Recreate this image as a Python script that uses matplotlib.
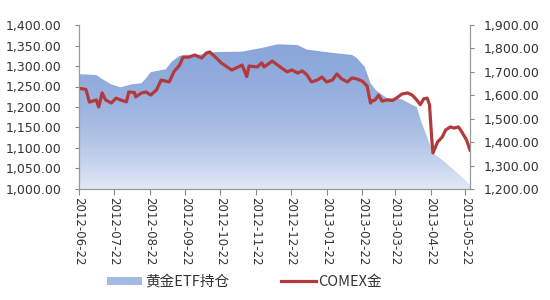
import numpy as np
import pandas as pd
import matplotlib
matplotlib.use('Agg')
import matplotlib.pyplot as plt
import matplotlib.dates as mdates
from matplotlib.patches import Patch
from matplotlib.lines import Line2D
from matplotlib.ticker import FuncFormatter, MultipleLocator

plt.rcParams['font.family'] = ['Noto Sans CJK SC', 'DejaVu Sans']

# 黄金ETF持仓 (left axis)
etf_dates = ['2012-06-22', '2012-07-07', '2012-07-11', '2012-07-20', '2012-07-28',
             '2012-08-06', '2012-08-15', '2012-08-19', '2012-08-23', '2012-09-01',
             '2012-09-05', '2012-09-10', '2012-09-17', '2012-10-06', '2012-10-18',
             '2012-11-10', '2012-11-27', '2012-12-11', '2012-12-28', '2013-01-05',
             '2013-01-27', '2013-02-13', '2013-02-17', '2013-02-24', '2013-03-01',
             '2013-03-06', '2013-03-15', '2013-03-28', '2013-04-06', '2013-04-10',
             '2013-04-14', '2013-04-19', '2013-04-24', '2013-05-02', '2013-05-09',
             '2013-05-19', '2013-05-26']
etf_vals = [1280, 1278, 1270, 1255, 1248,
            1255, 1258, 1270, 1285, 1290,
            1292, 1310, 1325, 1328, 1334,
            1335, 1344, 1353, 1351, 1340,
            1332, 1327, 1320, 1298, 1258,
            1240, 1222, 1219, 1205, 1200,
            1163, 1127, 1088, 1071, 1054,
            1029, 1010]

# COMEX金 (right axis)
gold_dates = ['2012-06-22', '2012-06-28', '2012-07-01', '2012-07-07', '2012-07-09',
              '2012-07-12', '2012-07-15', '2012-07-20', '2012-07-24', '2012-07-28',
              '2012-08-02', '2012-08-04', '2012-08-09', '2012-08-10', '2012-08-15',
              '2012-08-19', '2012-08-23', '2012-08-28', '2012-09-01', '2012-09-08',
              '2012-09-12', '2012-09-17', '2012-09-20', '2012-09-25', '2012-09-30',
              '2012-10-06', '2012-10-10', '2012-10-13', '2012-10-19', '2012-10-23',
              '2012-10-28', '2012-11-01', '2012-11-05', '2012-11-10', '2012-11-14',
              '2012-11-16', '2012-11-23', '2012-11-27', '2012-11-29', '2012-12-06',
              '2012-12-14', '2012-12-19', '2012-12-23', '2012-12-28', '2013-01-01',
              '2013-01-05', '2013-01-09', '2013-01-14', '2013-01-18', '2013-01-22',
              '2013-01-27', '2013-01-31', '2013-02-04', '2013-02-09', '2013-02-13',
              '2013-02-17', '2013-02-22', '2013-02-26', '2013-03-01', '2013-03-02',
              '2013-03-05', '2013-03-08', '2013-03-11', '2013-03-15', '2013-03-20',
              '2013-03-24', '2013-03-28', '2013-04-02', '2013-04-06', '2013-04-10',
              '2013-04-13', '2013-04-16', '2013-04-19', '2013-04-21', '2013-04-23',
              '2013-04-24', '2013-04-28', '2013-05-02', '2013-05-05', '2013-05-09',
              '2013-05-12', '2013-05-16', '2013-05-19', '2013-05-23', '2013-05-26']
gold_vals = [1630, 1625, 1571, 1580, 1550,
             1610, 1580, 1567, 1588, 1580,
             1572, 1614, 1612, 1593, 1610,
             1614, 1601, 1623, 1665, 1657,
             1700, 1729, 1763, 1763, 1772,
             1759, 1780, 1785, 1758, 1738,
             1721, 1708, 1717, 1729, 1680,
             1725, 1721, 1738, 1721, 1746,
             1717, 1700, 1708, 1695, 1704,
             1687, 1657, 1665, 1678, 1657,
             1665, 1691, 1670, 1657, 1674,
             1670, 1660, 1640, 1567, 1575,
             1580, 1601, 1575, 1580, 1578,
             1590, 1605, 1610, 1601, 1580,
             1560, 1585, 1588, 1559, 1409,
             1354, 1401, 1422, 1452, 1465,
             1460, 1465, 1443, 1409, 1366]

etf_x = pd.to_datetime(etf_dates)
gold_x = pd.to_datetime(gold_dates)

fig = plt.figure(figsize=(5.5, 3.0), dpi=100)
ax1 = fig.add_axes([79 / 550, 1 - 189 / 300, (470 - 79) / 550, (189 - 25) / 300])
ax2 = ax1.twinx()

# gradient-filled area
poly = ax1.fill_between(etf_x, 1000, etf_vals, facecolor='none', edgecolor='none')
x0 = mdates.date2num(etf_x[0])
x1 = mdates.date2num(etf_x[-1])
grad = np.linspace(0, 1, 256).reshape(-1, 1)
top_c = np.array([138, 166, 218]) / 255
bot_c = np.array([226, 233, 246]) / 255
img = top_c + (bot_c - top_c) * grad ** 2.2
img = img.reshape(256, 1, 3)
im = ax1.imshow(img, extent=[x0, x1, 1000, 1400], aspect='auto', origin='upper', zorder=1)
im.set_clip_path(poly.get_paths()[0], transform=ax1.transData)

ax2.plot(gold_x, gold_vals, color='#B33A3C', linewidth=2.3, solid_joinstyle='round')

ax1.set_xlim(etf_x[0], etf_x[-1])
ax1.set_ylim(1000, 1400)
ax2.set_ylim(1200, 1900)
ax1.yaxis.set_major_locator(MultipleLocator(50))
ax2.yaxis.set_major_locator(MultipleLocator(100))
fmt = FuncFormatter(lambda v, p: '{:,.2f}'.format(v))
ax1.yaxis.set_major_formatter(fmt)
ax2.yaxis.set_major_formatter(fmt)

ax1.xaxis.set_major_locator(mdates.MonthLocator(bymonthday=22))
ax1.xaxis.set_major_formatter(mdates.DateFormatter('%Y-%m-%d'))
for lab in ax1.get_xticklabels():
    lab.set_rotation(270)
    lab.set_fontsize(8.5)
    lab.set_family('DejaVu Sans')

ax1.tick_params(axis='y', labelsize=9, colors='#888888', labelcolor='#333333', length=3, pad=9.5)
ax2.tick_params(axis='y', labelsize=9, colors='#888888', labelcolor='#333333', length=3, pad=7)
ax1.tick_params(axis='x', colors='#888888', labelcolor='#333333', length=4, pad=2)
for ax in (ax1, ax2):
    for lab in ax.get_yticklabels():
        lab.set_family('DejaVu Sans')
    for s in ax.spines.values():
        s.set_color('#999999')
    ax.spines['top'].set_visible(False)

handles = [Patch(facecolor='#A3BBE3', edgecolor='none'),
           Line2D([0], [0], color='#B33A3C', linewidth=2.3)]
fig.legend(handles, ['黄金ETF持仓', 'COMEX金'], loc='center', bbox_to_anchor=(0.445, 0.06),
           ncol=2, frameon=False, fontsize=10.5, handlelength=2.4, handleheight=0.5,
           columnspacing=3.5, handletextpad=0.2, labelcolor='#333333')

fig.savefig('out.png', dpi=100)
